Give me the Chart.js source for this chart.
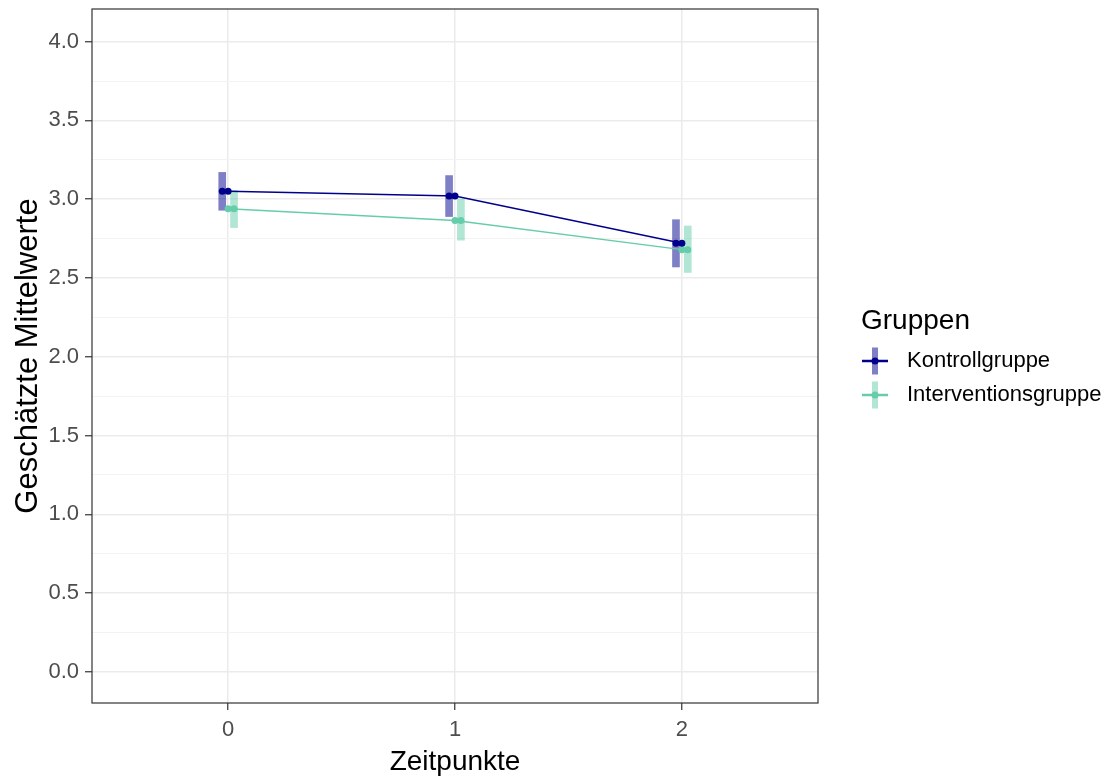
<!DOCTYPE html>
<html lang="de">
<head>
<meta charset="utf-8">
<title>Geschätzte Mittelwerte</title>
<script src="https://cdn.jsdelivr.net/npm/chart.js@4.4.1/dist/chart.umd.min.js"></script>
<style>
  html, body { margin: 0; padding: 0; background: #fff; }
</style>
</head>
<body>
<canvas id="mittelwerteChart" width="1109" height="780"></canvas>
<script>
const zeitpunkte = [0, 1, 2];
const gruppen = ["Kontrollgruppe", "Interventionsgruppe"];

const kontrollMittel = [3.05, 3.02, 2.72];
const kontrollUnten = [2.93, 2.89, 2.57];
const kontrollOben = [3.17, 3.15, 2.87];

const interventionMittel = [2.94, 2.865, 2.68];
const interventionUnten = [2.82, 2.74, 2.535];
const interventionOben = [3.055, 3.0, 2.83];

const xTicks = [0, 1, 2];
const yTicks = [0, 0.25, 0.5, 0.75, 1, 1.25, 1.5, 1.75, 2, 2.25, 2.5, 2.75, 3, 3.25, 3.5, 3.75, 4];

const navy = "#00008B";
const navyBar = "rgba(0, 0, 139, 0.5)";
const aqua = "#66CDAA";
const aquaBar = "rgba(102, 205, 170, 0.5)";
const family = "'Liberation Sans', Arial, sans-serif";

// side-by-side shift of the CI bars and the extra points
const dodge = 0.026;

function ciBars(unten, oben, shift) {
  return zeitpunkte.map((t, i) => ({ x: t + shift, y: [unten[i], oben[i]] }));
}
function punkte(mittel, shift) {
  return zeitpunkte.map((t, i) => ({ x: t + shift, y: mittel[i] }));
}
const isMajor = v => Math.abs(v * 2 - Math.round(v * 2)) < 1e-6;

// panel border on top of everything, like theme_bw
const panelBorder = {
  id: "panelBorder",
  afterDatasetsDraw(chart) {
    const { ctx, chartArea: a } = chart;
    ctx.save();
    ctx.strokeStyle = "#333333";
    ctx.lineWidth = 1.2;
    ctx.strokeRect(a.left, a.top, a.right - a.left, a.bottom - a.top);
    ctx.restore();
  }
};

// legend with bar + line + point keys
const gruppenLegend = {
  id: "gruppenLegend",
  afterDraw(chart) {
    const ctx = chart.ctx;
    const left = chart.chartArea.right + 43;
    const keyX = left + 14;
    const farben = [[navy, navyBar], [aqua, aquaBar]];
    ctx.save();
    ctx.fillStyle = "#000";
    ctx.textAlign = "left";
    ctx.textBaseline = "middle";
    ctx.font = "28px " + family;
    ctx.fillText("Gruppen", left, 321);
    ctx.font = "22px " + family;
    gruppen.forEach((name, i) => {
      const y = 361 + i * 34;
      const [linie, balken] = farben[i];
      ctx.fillStyle = balken;
      ctx.fillRect(keyX - 3, y - 13.5, 6, 27);
      ctx.strokeStyle = linie;
      ctx.lineWidth = 2.5;
      ctx.beginPath();
      ctx.moveTo(keyX - 13, y);
      ctx.lineTo(keyX + 13, y);
      ctx.stroke();
      ctx.fillStyle = linie;
      ctx.beginPath();
      ctx.arc(keyX, y, 3.5, 0, Math.PI * 2);
      ctx.fill();
      ctx.fillStyle = "#000";
      ctx.fillText(name, left + 46, y);
    });
    ctx.restore();
  }
};

const ctx = document.getElementById("mittelwerteChart").getContext("2d");
const mittelwerteChart = new Chart(ctx, {
  type: "scatter",
  data: {
    datasets: [
      {
        type: "bar",
        label: "Kontrollgruppe KI",
        data: ciBars(kontrollUnten, kontrollOben, -dodge),
        backgroundColor: navyBar,
        borderWidth: 0,
        barThickness: 7,
        grouped: false,
        order: 6,
      },
      {
        type: "bar",
        label: "Interventionsgruppe KI",
        data: ciBars(interventionUnten, interventionOben, dodge),
        backgroundColor: aquaBar,
        borderWidth: 0,
        barThickness: 7,
        grouped: false,
        order: 5,
      },
      {
        label: "Interventionsgruppe",
        data: punkte(interventionMittel, 0),
        showLine: true,
        borderColor: aqua,
        borderWidth: 1.5,
        pointRadius: 3.5,
        pointBorderWidth: 0,
        pointBackgroundColor: aqua,
        order: 4,
      },
      {
        label: "Kontrollgruppe",
        data: punkte(kontrollMittel, 0),
        showLine: true,
        borderColor: navy,
        borderWidth: 1.5,
        pointRadius: 3.5,
        pointBorderWidth: 0,
        pointBackgroundColor: navy,
        order: 3,
      },
      {
        label: "Interventionsgruppe versetzt",
        data: punkte(interventionMittel, dodge),
        pointRadius: 3.5,
        pointBorderWidth: 0,
        pointBackgroundColor: aqua,
        order: 2,
      },
      {
        label: "Kontrollgruppe versetzt",
        data: punkte(kontrollMittel, -dodge),
        pointRadius: 3.5,
        pointBorderWidth: 0,
        pointBackgroundColor: navy,
        order: 1,
      },
    ],
  },
  options: {
    responsive: false,
    animation: false,
    layout: { padding: { left: 0, top: 9, right: 291, bottom: 0 } },
    plugins: {
      legend: { display: false },
      tooltip: { enabled: false },
    },
    scales: {
      x: {
        type: "linear",
        min: -0.6,
        max: 2.6,
        offset: false,
        afterBuildTicks: s => { s.ticks = xTicks.map(v => ({ value: v })); },
        afterFit: s => {
          s.height = 77;
          s.paddingLeft = 0;
          s.paddingRight = 0;
        },
        border: { display: false },
        grid: {
          offset: false,
          color: "#ebebeb",
          lineWidth: 1.5,
          drawTicks: true,
          tickLength: 7,
          tickColor: "#333333",
          tickWidth: 1.2,
        },
        ticks: {
          color: "#4d4d4d",
          font: { size: 22, family },
          padding: 7,
          maxRotation: 0,
          autoSkip: false,
          callback: v => String(v),
        },
        title: {
          display: true,
          text: "Zeitpunkte",
          color: "#000",
          font: { size: 28, family },
          padding: { top: 0, bottom: 1 },
        },
      },
      y: {
        type: "linear",
        min: -0.197,
        max: 4.207,
        afterBuildTicks: s => { s.ticks = yTicks.map(v => ({ value: v })); },
        afterFit: s => {
          s.width = 92;
          s.paddingTop = 0;
          s.paddingBottom = 0;
        },
        border: { display: false },
        grid: {
          color: c => isMajor(c.tick.value) ? "#ebebeb" : "#f3f3f3",
          lineWidth: c => isMajor(c.tick.value) ? 1.5 : 1,
          drawTicks: true,
          tickLength: 7,
          tickColor: c => isMajor(c.tick.value) ? "#333333" : "rgba(0,0,0,0)",
          tickWidth: 1.2,
        },
        ticks: {
          color: "#4d4d4d",
          font: { size: 22, family },
          padding: 6,
          autoSkip: false,
          callback: v => isMajor(v) ? v.toFixed(1) : "",
        },
        title: {
          display: true,
          text: "Geschätzte Mittelwerte",
          color: "#000",
          font: { size: 31, family },
          padding: { top: 10, bottom: 0 },
        },
      },
    },
  },
  plugins: [panelBorder, gruppenLegend],
});
</script>
</body>
</html>
